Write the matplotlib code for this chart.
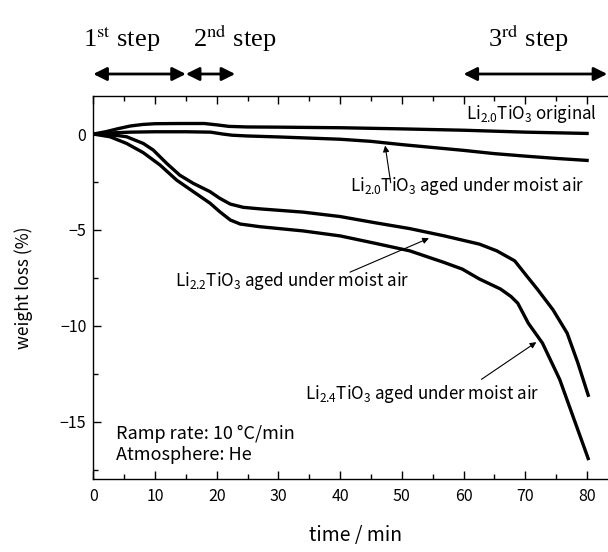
import matplotlib
matplotlib.use("Agg")
import matplotlib.pyplot as plt
from matplotlib.ticker import MultipleLocator

plt.rcParams['font.family'] = ['Noto Sans CJK JP', 'DejaVu Sans']
plt.rcParams['axes.unicode_minus'] = True

# TG curves: time (min) vs weight change (%)
t_orig = [0, 2, 4, 6, 8, 10, 14, 18, 20, 22, 25, 30, 40, 50, 60, 66, 70, 80.3]
w_orig = [0, 0.12, 0.28, 0.42, 0.5, 0.54, 0.55, 0.55, 0.48, 0.4, 0.37, 0.36, 0.33, 0.27, 0.2, 0.14, 0.1, 0.03]

t_20 = [0, 3, 6, 10, 15, 19, 21, 22.5, 25, 30, 40, 45, 50, 55, 60, 65, 70, 75, 80.3]
w_20 = [0, 0.06, 0.1, 0.12, 0.12, 0.1, 0.0, -0.06, -0.1, -0.15, -0.27, -0.38, -0.55, -0.7,
        -0.85, -1.02, -1.15, -1.27, -1.38]

t_22 = [0, 2, 4, 5.4, 8.1, 9.7, 11.9, 14, 16.2, 18.9, 20.5, 22.2, 24.3, 27, 34, 40, 45.6,
        51.3, 56.9, 62.6, 65.4, 68.3, 70, 72, 74.5, 76.8, 78.5, 80.3]
w_22 = [0, -0.02, -0.08, -0.14, -0.49, -0.83, -1.53, -2.14, -2.57, -3.0, -3.35, -3.65, -3.82,
        -3.9, -4.07, -4.3, -4.62, -4.93, -5.31, -5.74, -6.09, -6.61, -7.3, -8.1, -9.16,
        -10.38, -11.9, -13.7]

t_24 = [0, 2.7, 5.4, 8.1, 10.8, 13.5, 16.2, 18.9, 20.5, 22.2, 23.8, 27, 34, 40, 45.6, 51.3,
        56.9, 59.8, 62.6, 66, 67.7, 68.8, 70.5, 72.8, 75.6, 77.5, 80.3]
w_24 = [0, -0.14, -0.49, -0.97, -1.61, -2.4, -3.0, -3.6, -4.05, -4.48, -4.69, -4.83, -5.05,
        -5.31, -5.69, -6.09, -6.7, -7.04, -7.56, -8.08, -8.47, -8.82, -9.86, -10.9, -12.8,
        -14.5, -17.0]

step_labels = [r'1$^{\mathrm{st}}$ step', r'2$^{\mathrm{nd}}$ step', r'3$^{\mathrm{rd}}$ step']
step_label_x = [-1.7, 16.1, 64.0]
step_spans = [(0, 15), (15, 23), (60, 83.3)]

fig = plt.figure(figsize=(6.08, 5.52), dpi=100)
W, H = 608, 552
x0_px, y_bot_px, y_top_px = 93.3, 479.3, 95.7
px_per_min = 6.17
xmax = 85
ax = fig.add_axes([x0_px / W, (H - y_bot_px) / H, xmax * px_per_min / W, (y_bot_px - y_top_px) / H])

lw = 2.4
for t, w in [(t_orig, w_orig), (t_20, w_20), (t_22, w_22), (t_24, w_24)]:
    ax.plot(t, w, color='black', lw=lw, solid_capstyle='butt', solid_joinstyle='round')

ax.set_xlim(0, xmax)
ax.set_ylim(-18, 2)
ax.xaxis.set_major_locator(MultipleLocator(10))
ax.xaxis.set_minor_locator(MultipleLocator(5))
ax.yaxis.set_major_locator(MultipleLocator(5))
ax.yaxis.set_minor_locator(MultipleLocator(2.5))
ax.tick_params(which='both', direction='in', top=True, right=False, width=1.0, labelsize=11.5)
ax.tick_params(which='major', length=6)
ax.tick_params(which='minor', length=3.5)
ax.tick_params(axis='x', pad=6)
ax.tick_params(axis='y', pad=5)
for s in ax.spines.values():
    s.set_linewidth(1.0)

ax.set_xlabel('time / min', fontsize=14, labelpad=15)
ax.set_ylabel('weight loss (%)', fontsize=12.5, labelpad=19)

# curve annotations
fs = 12.2
ax.text(81.6, 0.78, r'Li$_{\mathregular{2.0}}$TiO$_{\mathregular{3}}$ original', ha='right',
        va='baseline', fontsize=fs)
ax.text(41.6, -2.95, r'Li$_{\mathregular{2.0}}$TiO$_{\mathregular{3}}$ aged under moist air',
        ha='left', va='baseline', fontsize=fs)
ax.text(13.3, -7.9, r'Li$_{\mathregular{2.2}}$TiO$_{\mathregular{3}}$ aged under moist air',
        ha='left', va='baseline', fontsize=fs)
ax.text(34.3, -13.83, r'Li$_{\mathregular{2.4}}$TiO$_{\mathregular{3}}$ aged under moist air',
        ha='left', va='baseline', fontsize=fs)

arrow_kw = dict(arrowstyle='-|>', color='black', lw=0.8, mutation_scale=9, shrinkA=0, shrinkB=0)
ax.annotate('', xy=(47.3, -0.6), xytext=(48.2, -2.54), arrowprops=arrow_kw)
ax.annotate('', xy=(54.4, -5.43), xytext=(41.6, -7.2), arrowprops=arrow_kw)
ax.annotate('', xy=(71.8, -10.85), xytext=(62.9, -12.79), arrowprops=arrow_kw)

ax.text(3.7, -15.92, 'Ramp rate: 10 °C/min', ha='left', va='baseline', fontsize=13)
ax.text(3.7, -17.0, 'Atmosphere: He', ha='left', va='baseline', fontsize=13)

# heating steps above the plot
trans = ax.get_xaxis_transform()
y_arrow = 1 + (y_top_px - 74) / (y_bot_px - y_top_px)
y_lab = 1 + (y_top_px - 46.5) / (y_bot_px - y_top_px)
for (a, b) in step_spans:
    ax.annotate('', xy=(b, y_arrow), xytext=(a, y_arrow), xycoords=trans, textcoords=trans,
                arrowprops=dict(arrowstyle='<|-|>', color='black', lw=2.0, mutation_scale=20,
                                shrinkA=0, shrinkB=0),
                annotation_clip=False)
for lab, x in zip(step_labels, step_label_x):
    ax.text(x, y_lab, lab, transform=trans, ha='left', va='baseline', fontsize=19,
            family='Liberation Serif', math_fontfamily='stix', clip_on=False)

fig.savefig('out.png', dpi=100)
